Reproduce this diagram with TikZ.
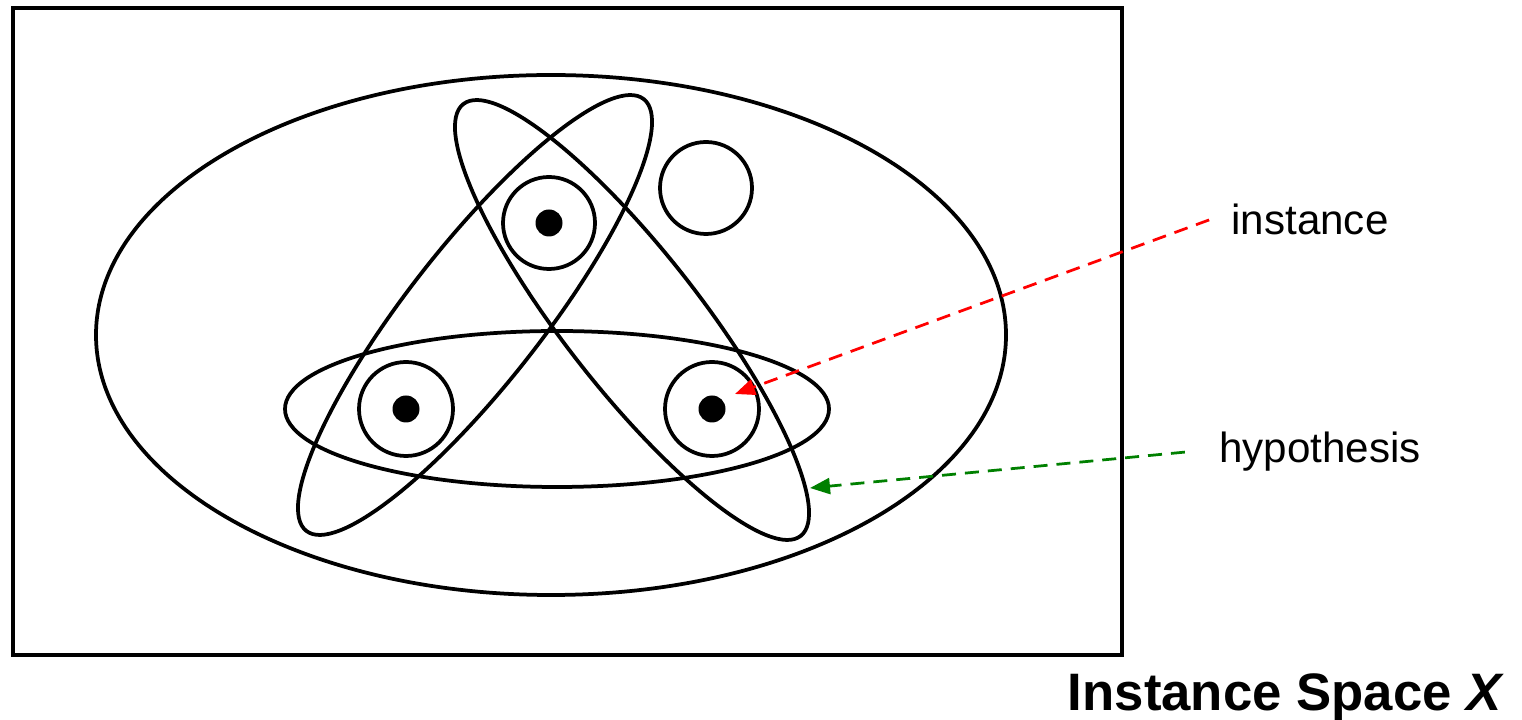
\documentclass[tikz,border=0pt]{standalone}
\usepackage{fontspec}
\setmainfont{Liberation Sans}
\usetikzlibrary{arrows.meta}
\tikzset{>={Triangle[length=0.4cm,width=0.32cm]}}

\begin{document}
\begin{tikzpicture}[
    x=0.02cm, y=0.02cm,
    outline/.style={draw, line width=0.075cm},
    dot/.style={circle, fill=black, minimum size=0.54cm, inner sep=0pt},
    tag/.style={font=\fontsize{24}{28}\selectfont, anchor=base},
    pointer/.style={->, dashed, line width=0.055cm, dash pattern=on 0.28cm off 0.18cm}
]
\useasboundingbox (0,0) rectangle (1522,720);

% instance space
\draw[outline] (13,65) rectangle (1122,712);
\draw[outline] (551,385) ellipse (455 and 260);

% hypotheses
\draw[outline] (557,311) ellipse (272 and 78);
\draw[outline, rotate around={52:(475,405)}] (475,405) ellipse (274 and 68);
\draw[outline, rotate around={-52:(632,400)}] (632,400) ellipse (274 and 68);
\draw[outline] (706,532) circle (46);

% instances
\draw[outline] (549,497) circle (46);
\draw[outline] (406,311) circle (47);
\draw[outline] (712,311) circle (47);
\node[dot] (x1) at (549,497) {};
\node[dot] (x2) at (406,311) {};
\node[dot] (x3) at (712,311) {};

\coordinate (xend) at (735,326);
\coordinate (hend) at (810,232);

\node[tag, inner xsep=0.44cm] (instance) at (1310,485) {instance};
\node[tag, inner xsep=0.68cm] (hypothesis) at (1320,257) {hypothesis};
\node[font=\fontsize{30}{36}\selectfont\bfseries, anchor=base] (space) at (1286,9) {Instance Space \textit{X}};

\draw[pointer, red] (instance.west) -- (xend);
\draw[pointer, green!50!black] (hypothesis.west) -- (hend);
\end{tikzpicture}
\end{document}
